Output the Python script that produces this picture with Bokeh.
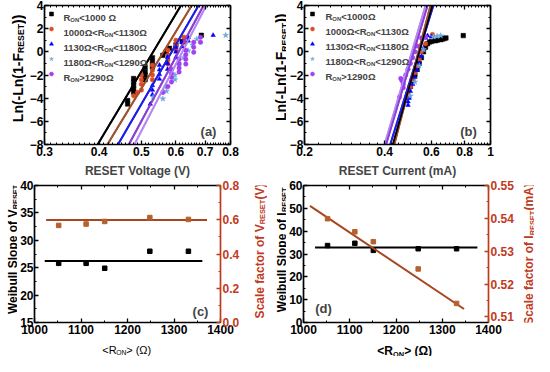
from math import pi
from bokeh.plotting import figure
from bokeh.models import (Range1d, LinearAxis, LogAxis, FixedTicker, Label, Legend,
                          LegendItem, CustomJSTickFormatter, PrintfTickFormatter)
from bokeh.layouts import row, column
from bokeh.embed import file_html
from bokeh.resources import INLINE

FONT = "Liberation Sans"

# ---------------- data ----------------
series_names = [
    [("R", 0), ("ON", 1), ("<1000 \u03a9", 0)],
    [("1000\u03a9<R", 0), ("ON", 1), ("<1130\u03a9", 0)],
    [("1130\u03a9<R", 0), ("ON", 1), ("<1180\u03a9", 0)],
    [("1180\u03a9<R", 0), ("ON", 1), ("<1290\u03a9", 0)],
    [("R", 0), ("ON", 1), (">1290\u03a9", 0)],
]
series_names_b = [
    [("R", 0), ("ON", 1), ("<1000\u03a9", 0)],
] + series_names[1:]
point_colors = ["#000000", "#E04A20", "#0000FF", "#6FA8DC", "#A040F0"]
line_colors = ["#000000", "#A0522D", "#1E1EE6", "#8A3FD6", "#B58AF0"]
markers = ["square", "circle", "triangle", "star", "circle"]

# panel (a): Weibull plot of RESET voltage
a_x = [
    [0.465, 0.465, 0.48, 0.48, 0.48, 0.48, 0.48, 0.51, 0.51, 0.51, 0.51, 0.53, 0.53, 0.53, 0.56, 0.57, 0.58, 0.60, 0.62, 0.686],
    [0.48, 0.49, 0.50, 0.50, 0.50, 0.50, 0.53, 0.53, 0.53, 0.53, 0.575, 0.575, 0.575, 0.575, 0.60, 0.60, 0.60, 0.626, 0.626],
    [0.524, 0.53, 0.53, 0.53, 0.55, 0.55, 0.55, 0.55, 0.574, 0.574, 0.574, 0.60, 0.60, 0.60, 0.62, 0.62, 0.64, 0.64, 0.73],
    [0.532, 0.56, 0.571, 0.571, 0.597, 0.597, 0.61, 0.625, 0.64, 0.655, 0.67, 0.78],
    [0.56, 0.575, 0.586, 0.586, 0.586, 0.586, 0.61, 0.61, 0.61, 0.61, 0.632, 0.632, 0.632, 0.632, 0.659, 0.659, 0.659, 0.683, 0.683],
]
a_y = [
    [-4.5, -4.2, -2.3, -2.6, -2.9, -3.2, -3.5, -1.3, -1.7, -2.0, -2.4, -0.5, -0.9, -1.3, -0.3, 0.0, 0.3, 0.6, 0.9, 1.43],
    [-3.8, -3.5, -2.0, -2.4, -2.8, -3.3, -1.15, -1.6, -2.0, -2.4, 0.14, -0.3, -0.7, -1.06, 1.0, 0.55, 0.14, 1.26, 0.83],
    [-4.5, -2.9, -3.3, -3.7, -1.15, -1.55, -1.95, -2.35, -0.46, -1.0, -1.5, 0.4, 0.0, -0.46, 0.83, 0.45, 1.26, 0.95, 1.43],
    [-3.9, -4.05, -3.0, -3.4, -2.0, -2.4, -1.2, -0.5, 0.1, 0.6, 1.1, 1.43],
    [-3.5, -3.0, -1.5, -1.85, -2.2, -2.6, -0.63, -1.0, -1.4, -1.74, 0.14, -0.25, -0.65, -1.06, 0.83, 0.4, -0.03, 1.26, 0.83],
]
fit_y = [-8, 4]
a_fit_lo = [0.397, 0.418, 0.442, 0.468, 0.482]
a_fit_hi = [0.616, 0.652, 0.676, 0.694, 0.704]

# panel (b): Weibull plot of RESET current
b_x = [
    [0.50, 0.51, 0.52, 0.53, 0.54, 0.55, 0.56, 0.57, 0.58, 0.59, 0.60, 0.62, 0.63, 0.65, 0.66, 0.67, 0.68, 0.79],
    [0.49, 0.50, 0.51, 0.52, 0.53, 0.54, 0.55, 0.57, 0.605],
    [0.49, 0.49, 0.495, 0.50, 0.51, 0.52, 0.53, 0.54, 0.55, 0.56, 0.57, 0.58, 0.60],
    [0.50, 0.52, 0.54, 0.56, 0.61, 0.63, 0.65],
    [0.455, 0.46, 0.465, 0.47, 0.47, 0.48, 0.49, 0.50, 0.51, 0.52, 0.53, 0.55, 0.57],
]
b_y = [
    [-3.0, -2.5, -2.0, -1.5, -1.0, -0.5, 0.0, 0.4, 0.7, 0.85, 0.9, 0.95, 1.0, 1.05, 1.1, 1.15, 1.2, 1.4],
    [-3.5, -3.0, -2.4, -1.8, -1.2, -0.6, 0.0, 0.7, 1.5],
    [-4.6, -4.3, -4.0, -3.4, -2.8, -2.2, -1.6, -1.0, -0.4, 0.3, 1.2, 1.4, 1.3],
    [-3.8, -2.6, -1.2, 0.2, 1.3, 1.35, 1.4],
    [-3.9, -2.3, -2.5, -2.8, -3.1, -2.0, -1.5, -1.0, -0.5, 0.0, 0.5, 1.2, 1.3],
]
b_fit_lo = [0.43, 0.435, 0.42, 0.405, 0.40]
b_fit_hi = [0.605, 0.595, 0.61, 0.58, 0.57]

# panels (c) and (d)
r_on = [1052, 1111, 1151, 1248, 1331]
c_slope = [25.8, 25.8, 24.9, 28.0, 28.0]
c_scale = [0.567, 0.575, 0.590, 0.613, 0.602]
c_slope_fit_x = [1022, 1361]
c_slope_fit_y = [26.2, 26.2]
c_scale_fit_x = [1025, 1371]
c_scale_fit_y = [0.598, 0.598]
d_slope = [33.7, 34.7, 31.6, 32.3, 32.3]
d_scale = [0.5399, 0.5359, 0.5329, 0.5246, 0.5141]
d_slope_fit_x = [1025, 1376]
d_slope_fit_y = [32.8, 32.8]
d_scale_fit_x = [1014, 1347]
d_scale_fit_y = [0.5438, 0.5124]

a_xticks = [0.3, 0.4, 0.5, 0.6, 0.7, 0.8]
a_xminor = [round(0.3 + 0.01 * i, 2) for i in range(51)]
b_xticks = [0.2, 0.4, 0.6, 0.8, 1.0]
b_xminor = [round(0.2 + 0.025 * i, 3) for i in range(33)]
w_yticks = [-8, -6, -4, -2, 0, 2, 4]
w_yminor = list(range(-8, 5))
r_ticks = [1000, 1100, 1200, 1300, 1400]
r_minor = list(range(1000, 1401, 50))

RED = "#C03A22"
BROWN = "#A8461E"
BROWN_PT = "#B5602E"

# ---------------- text helpers ----------------
BOLD = {' ': 278, '(': 333, ')': 333, '-': 333, '.': 278, '<': 584, '>': 584,
        'A': 722, 'C': 722, 'E': 667, 'F': 611, 'I': 278, 'L': 611, 'N': 722, 'O': 778,
        'R': 722, 'S': 667, 'T': 611, 'V': 667, 'W': 944,
        'a': 556, 'b': 611, 'c': 556, 'e': 556, 'f': 333, 'i': 278, 'l': 278, 'm': 889,
        'n': 611, 'o': 611, 'p': 611, 'r': 389, 's': 556, 't': 333, 'u': 611, '\u03a9': 768}


def rich(p, parts, x, y, size, color="black", bold=True, angle=0.0, align="center"):
    k = 0.62
    ws = []
    for s, sub in parts:
        fs = size * k if sub else size
        ws.append(sum(BOLD.get(c, 556) for c in s) * fs / 1000.0 * (1.0 if bold else 0.97))
    total = sum(ws)
    pos = {"left": 0.0, "center": -total / 2, "right": -total}[align]
    for (s, sub), w in zip(parts, ws):
        fs = size * k if sub else size
        drop = size * 0.25 if sub else 0.0
        if angle == 0:
            ox, oy = pos, -drop
        else:
            ox, oy = drop, pos
        p.add_layout(Label(x=x, y=y, x_offset=ox, y_offset=oy, text=s, angle=angle,
                           text_font=FONT, text_font_size=f"{fs:.1f}px",
                           text_font_style="bold" if bold else "normal", text_color=color,
                           text_align="left", text_baseline="alphabetic"))
        pos += w


blank_fmt = CustomJSTickFormatter(code="return '';")


def style_axis(ax, ticks, minor, color="black", labels=True, fs="12px", standoff=2):
    ax.ticker = FixedTicker(ticks=ticks, minor_ticks=minor)
    ax.axis_line_color = color
    ax.axis_line_width = 1.7
    ax.major_tick_line_color = color
    ax.major_tick_line_width = 1.3
    ax.minor_tick_line_color = color
    ax.minor_tick_line_width = 1.0
    ax.major_tick_in = 4
    ax.major_tick_out = 0
    ax.minor_tick_in = 2
    ax.minor_tick_out = 0
    ax.major_label_text_font = FONT
    ax.major_label_text_font_style = "bold"
    ax.major_label_text_color = color
    ax.major_label_text_font_size = fs
    if labels:
        ax.major_label_standoff = standoff
    else:
        ax.formatter = blank_fmt
        ax.major_label_standoff = 0


def make_fig(w, h, l, r, t, b, xr, yr, log=False):
    p = figure(width=w, height=h, x_range=xr, y_range=yr,
               x_axis_type="log" if log else "linear",
               output_backend="svg", toolbar_location=None,
               min_border_left=l, min_border_right=r, min_border_top=t, min_border_bottom=b)
    p.grid.visible = False
    p.outline_line_color = None
    p.background_fill_color = "white"
    p.border_fill_color = "white"
    return p


def label_fig(w, h):
    f = figure(width=w, height=h, x_range=Range1d(0, w), y_range=Range1d(0, h),
               output_backend="svg", toolbar_location=None, min_border=0,
               min_border_left=0, min_border_right=0, min_border_top=0, min_border_bottom=0,
               x_axis_location=None, y_axis_location=None)
    f.grid.visible = False
    f.outline_line_color = None
    f.background_fill_color = "white"
    f.border_fill_color = "white"
    return f


log_fmt = CustomJSTickFormatter(code="return tick >= 0.999 ? '1' : tick.toFixed(1);")


def weibull_panel(w, l, r, names, xs, ys, lo, hi, x0, x1, xticks, xminor, xlabel, tag, leg_x,
                  leg_text_dx, leg_row0):
    p = make_fig(w, 180, l, r, 5, 35, Range1d(x0, x1), Range1d(-8, 4), log=True)
    style_axis(p.xaxis[0], xticks, xminor)
    p.xaxis[0].formatter = log_fmt
    p.xaxis[0].axis_label = xlabel
    p.xaxis[0].axis_label_text_font = FONT
    p.xaxis[0].axis_label_text_font_style = "bold"
    p.xaxis[0].axis_label_text_font_size = "12px"
    p.xaxis[0].axis_label_standoff = 5
    style_axis(p.yaxis[0], w_yticks, w_yminor, standoff=1)
    top = LogAxis()
    style_axis(top, xticks, xminor, labels=False)
    p.add_layout(top, "above")
    right = LinearAxis()
    style_axis(right, w_yticks, w_yminor, labels=False)
    p.add_layout(right, "right")
    items = []
    for i in range(5):
        p.line([lo[i], hi[i]], fit_y, line_color=line_colors[i], line_width=2)
    for i in range(5):
        rr = p.scatter(xs[i], ys[i], marker=markers[i], size=4.5 if markers[i] != "star" else 6,
                       fill_color=point_colors[i], line_color=point_colors[i], line_width=0.5)
        items.append(LegendItem(label=" ", renderers=[rr]))
    for i in range(4, -1, -1):
        p.line([lo[i], hi[i]], fit_y, line_color=line_colors[i], line_width=1.6)
    leg = Legend(items=items, location=(leg_x, 63), glyph_width=10, glyph_height=15,
                 label_height=15, label_width=0, label_standoff=0, spacing=0, padding=0,
                 margin=0, border_line_color=None, background_fill_alpha=0,
                 label_text_font_size="1px")
    p.add_layout(leg)
    # legend texts, in pixels inside the frame (frame is 140 px tall)
    for i, parts in enumerate(names):
        base = leg_row0 + 15 * i + 3.4
        k = 0.62
        pos = 0.0
        for s, sub in parts:
            fs = 9.5 * k if sub else 9.5
            p.add_layout(Label(x=leg_text_dx + pos, y=140 - (base - 13) - (2.4 if sub else 0),
                               x_units="screen", y_units="screen", text=s, text_font=FONT,
                               text_font_size=f"{fs:.1f}px", text_font_style="bold",
                               text_align="left", text_baseline="alphabetic"))
            pos += sum(BOLD.get(c, 556) for c in s) * fs / 1000.0
    p.add_layout(Label(x=x1, y=-8, x_offset=-22, y_offset=13, text=tag, text_font=FONT,
                       text_font_size="13px", text_font_style="bold", text_align="center",
                       text_baseline="alphabetic"))
    return p


# ---- top row ----
la = label_fig(26, 180)
rich(la, [("Ln(-Ln(1-F", 0), ("RESET", 1), ("))", 0)], 17, 98.5, 14, angle=pi / 2)
pa = weibull_panel(241, 12, 37, series_names, a_x, a_y, a_fit_lo, a_fit_hi, 0.3, 0.8,
                   a_xticks, a_xminor, "RESET Voltage (V)", "(a)", 2, 19, 22.5)
lb = label_fig(19, 180)
rich(lb, [("Ln(-Ln(1-F", 0), ("RESET", 1), ("))", 0)], 13.5, 100, 14, angle=pi / 2)
pb = weibull_panel(248, 12, 44, series_names_b, b_x, b_y, b_fit_lo, b_fit_hi, 0.2, 1.0,
                   b_xticks, b_xminor, "RESET Current (mA)", "(b)", 3, 21, 22)


def param_panel(w, h, l, r, t, b, y0, y1, s0, s1, yticks, yminor, sticks, sminor, sfmt):
    p = make_fig(w, h, l, r, t, b, Range1d(1000, 1400), Range1d(y0, y1))
    p.extra_y_ranges = {"scale": Range1d(s0, s1)}
    style_axis(p.xaxis[0], r_ticks, r_minor)
    style_axis(p.yaxis[0], yticks, yminor, standoff=1)
    top = LinearAxis()
    style_axis(top, r_ticks, r_minor, labels=False)
    p.add_layout(top, "above")
    right = LinearAxis(y_range_name="scale")
    style_axis(right, sticks, sminor, color=RED, standoff=2)
    right.formatter = PrintfTickFormatter(format=sfmt)
    p.add_layout(right, "right")
    return p


# ---- bottom row ----
lc = label_fig(17, 160)
rich(lc, [("Weibull Slope of V", 0), ("RESET", 1)], 12, 85.5, 12, angle=pi / 2)
pc = param_panel(225, 160, 15, 20, 5, 16, 15, 40, 0, 0.8, [15, 20, 25, 30, 35, 40],
                 [15 + 2.5 * i for i in range(11)], [0.0, 0.2, 0.4, 0.6, 0.8],
                 [round(0.1 * i, 1) for i in range(9)], "%.1f")
pc.line(c_slope_fit_x, c_slope_fit_y, line_color="black", line_width=2)
pc.scatter(r_on, c_slope, marker="square", size=4.5, color="black")
pc.line(c_scale_fit_x, c_scale_fit_y, line_color=BROWN, line_width=2, y_range_name="scale")
pc.scatter(r_on, c_scale, marker="square", size=4.5, color=BROWN_PT, y_range_name="scale")
pc.add_layout(Label(x=1400, y=15, x_offset=-20, y_offset=11, text="(c)", text_font=FONT,
                    text_font_size="13px", text_font_style="bold", text_align="center",
                    text_baseline="alphabetic"))
rc = label_fig(25, 160)
rich(rc, [("Scale factor of V", 0), ("RESET", 1), (" (V)", 0)], 17, 85.5, 12,
     color=RED, angle=pi / 2)

ld = label_fig(19, 160)
rich(ld, [("Weibull Slope of I", 0), ("RESET", 1)], 14, 85, 12, angle=pi / 2)
pd_ = param_panel(230, 160, 16, 26, 2, 18, 0, 60, 0.5083, 0.55, [0, 10, 20, 30, 40, 50, 60],
                  [5 * i for i in range(13)], [0.51, 0.52, 0.53, 0.54, 0.55],
                  [round(0.51 + 0.005 * i, 3) for i in range(9)], "%.2f")
pd_.line(d_slope_fit_x, d_slope_fit_y, line_color="black", line_width=2)
pd_.scatter(r_on, d_slope, marker="square", size=4.5, color="black")
pd_.line(d_scale_fit_x, d_scale_fit_y, line_color=BROWN, line_width=2, y_range_name="scale")
pd_.scatter(r_on, d_scale, marker="square", size=4.5, color=BROWN_PT, y_range_name="scale")
pd_.add_layout(Label(x=1000, y=0, x_offset=20, y_offset=14, text="(d)", text_font=FONT,
                     text_font_size="13px", text_font_style="bold", text_align="center",
                     text_baseline="alphabetic"))
rd = label_fig(18, 160)
rich(rd, [("Scale factor of I", 0), ("RESET", 1), (" (mA)", 0)], 12.5, 82, 12,
     color=RED, angle=pi / 2)

xc = label_fig(267, 16)
rich(xc, [("<R", 0), ("ON", 1), ("> (\u03a9)", 0)], 126, 6.5, 11, bold=False)
xd = label_fig(267, 16)
rich(xd, [("<R", 0), ("ON", 1), ("> (\u03a9)", 0)], 137, 5.5, 12)

layout = column(row(la, pa, lb, pb), row(lc, pc, rc, ld, pd_, rd), row(xc, xd))
open("out.html", "w").write(file_html(layout, INLINE))
